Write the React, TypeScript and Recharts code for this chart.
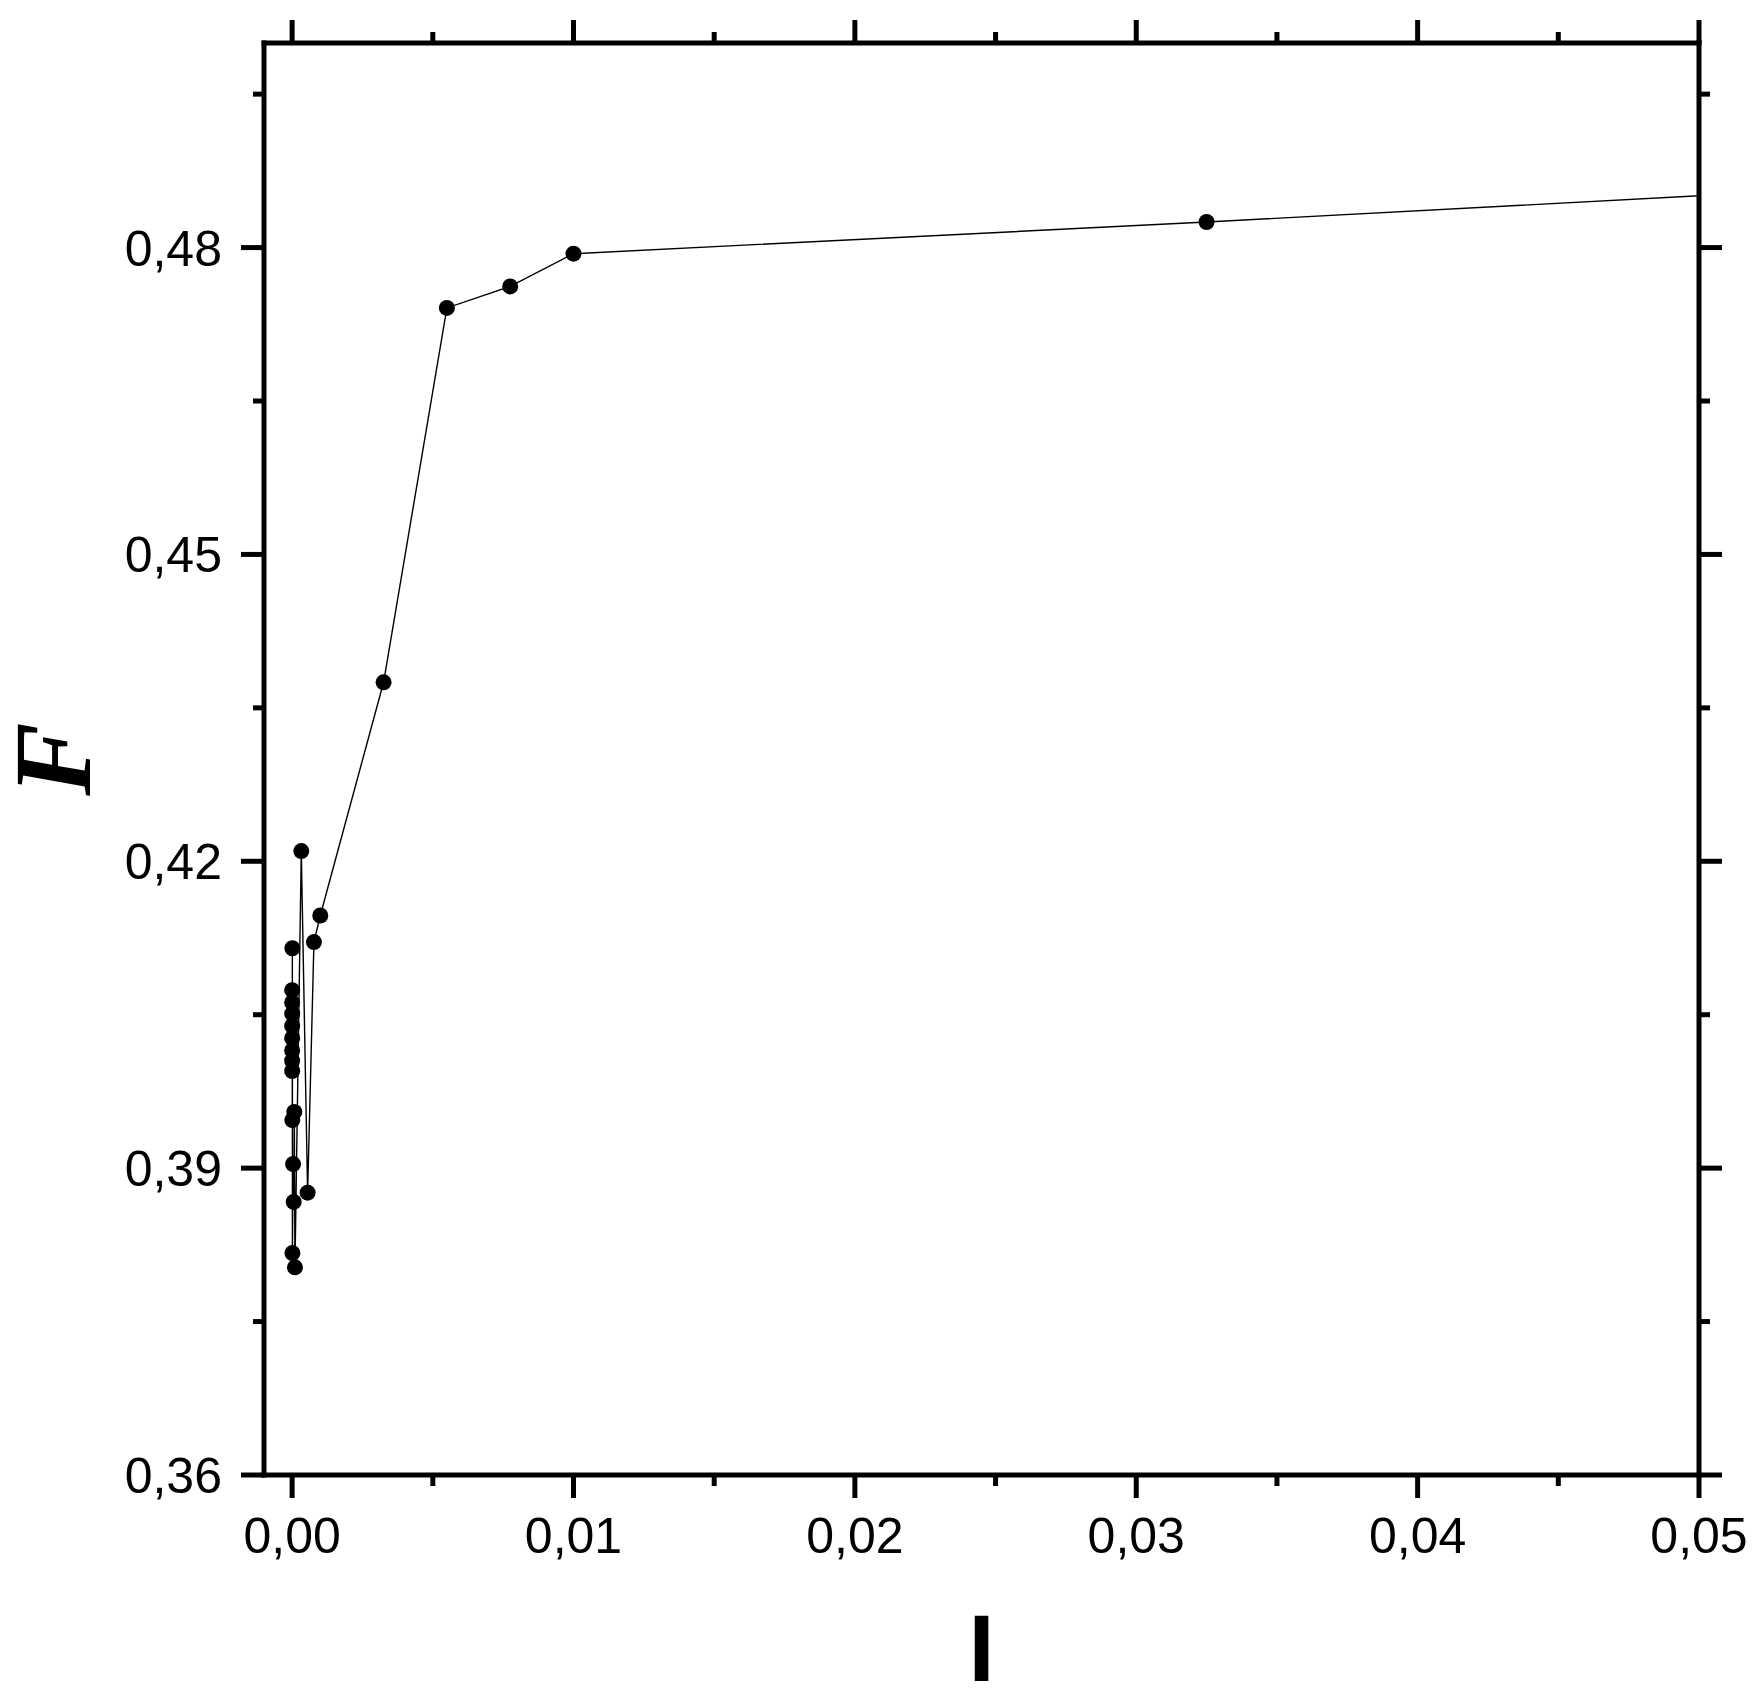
import React from 'react';
import { LineChart, Line, XAxis, YAxis } from 'recharts';

// Injection current I and the resulting F values
const xValues = [
  5.5e-8, 7.75e-8, 1e-7, 3.25e-7, 5.5e-7, 7.75e-7, 1e-6, 3.25e-6, 5.5e-6, 7.75e-6,
  1e-5, 3.25e-5, 5.5e-5, 7.75e-5, 0.0001, 0.000325, 0.00055, 0.000775, 0.001,
  0.00325, 0.0055, 0.00775, 0.01, 0.0325, 0.055,
];
const fValues = [
  0.4015, 0.4027, 0.4005, 0.4062, 0.4039, 0.4074, 0.3995, 0.4051, 0.3947, 0.4115,
  0.3817, 0.3904, 0.3867, 0.3955, 0.3803, 0.4210, 0.3876, 0.4121, 0.4147,
  0.4375, 0.4741, 0.4762, 0.4794, 0.4825, 0.4858,
];

const xTicks = [0, 0.005, 0.01, 0.015, 0.02, 0.025, 0.03, 0.035, 0.04, 0.045, 0.05];
const yTicks = [0.36, 0.375, 0.39, 0.405, 0.42, 0.435, 0.45, 0.465, 0.48, 0.495];
const xDomain = [-0.001, 0.05];
const yDomain = [0.36, 0.5];

const data = xValues.map((x, i) => ({ x, f: fValues[i] }));

const W = 1759;
const H = 1698;
const FONT = '"Liberation Sans", Arial, sans-serif';
const MAJOR = 23;
const MINOR = 11;
const TW = 5;

const isMajorX = (v: number) => Math.abs(v / 0.01 - Math.round(v / 0.01)) < 1e-6;
const isMajorY = (v: number) => Math.abs((v - 0.36) / 0.03 - Math.round((v - 0.36) / 0.03)) < 1e-6;
const fmt = (v: number) => v.toFixed(2).replace('.', ',');

const BottomTick = (props: any) => {
  const { x, y, payload } = props;
  const major = isMajorX(payload.value);
  return (
    <g>
      <line x1={x} y1={y} x2={x} y2={y + (major ? MAJOR : MINOR)} stroke="#000" strokeWidth={TW} />
      {major && (
        <text x={x} y={y + 78} textAnchor="middle" fontSize={50} fontFamily={FONT} fill="#000">
          {fmt(payload.value)}
        </text>
      )}
    </g>
  );
};

const TopTick = (props: any) => {
  const { x, y, payload } = props;
  const major = isMajorX(payload.value);
  return <line x1={x} y1={y} x2={x} y2={y - (major ? MAJOR : MINOR)} stroke="#000" strokeWidth={TW} />;
};

const LeftTick = (props: any) => {
  const { x, y, payload } = props;
  const major = isMajorY(payload.value);
  return (
    <g>
      <line x1={x} y1={y} x2={x - (major ? MAJOR : MINOR)} y2={y} stroke="#000" strokeWidth={TW} />
      {major && (
        <text x={x - 42} y={y + 18} textAnchor="end" fontSize={50} fontFamily={FONT} fill="#000">
          {fmt(payload.value)}
        </text>
      )}
    </g>
  );
};

const RightTick = (props: any) => {
  const { x, y, payload } = props;
  const major = isMajorY(payload.value);
  return <line x1={x} y1={y} x2={x + (major ? MAJOR : MINOR)} y2={y} stroke="#000" strokeWidth={TW} />;
};

const XLabel = (props: any) => {
  const vb = props.viewBox || {};
  const cx = vb.x + vb.width / 2;
  return (
    <text x={cx} y={vb.y + 206} textAnchor="middle" fontSize={94} fontWeight="bold" fontFamily={FONT} fill="#000">
      I
    </text>
  );
};

const YLabel = (props: any) => {
  const vb = props.viewBox || {};
  const cy = vb.y + vb.height / 2;
  const bx = vb.x + 90;
  return (
    <text
      x={bx}
      y={cy}
      textAnchor="middle"
      fontSize={110}
      fontWeight="bold"
      fontStyle="italic"
      fontFamily='"Liberation Serif", "Times New Roman", serif'
      fill="#000"
      transform={`rotate(-90, ${bx}, ${cy})`}
    >
      F
    </text>
  );
};

const axisLine = { stroke: '#000', strokeWidth: TW, strokeLinecap: 'square' as const };

export default function App() {
  return (
    <div style={{ position: 'absolute', left: 0, top: 0, width: W, height: H, background: '#fff' }}>
      <LineChart width={W} height={H} data={data} margin={{ top: 0, right: 0, bottom: 0, left: 0 }}>
        <XAxis
          xAxisId="b"
          dataKey="x"
          type="number"
          domain={xDomain}
          allowDataOverflow
          ticks={xTicks}
          interval={0}
          orientation="bottom"
          height={223}
          tickSize={0}
          tickMargin={0}
          tickLine={false}
          axisLine={axisLine}
          tick={<BottomTick />}
          label={<XLabel />}
        />
        <XAxis
          xAxisId="t"
          dataKey="x"
          type="number"
          domain={xDomain}
          allowDataOverflow
          ticks={xTicks}
          interval={0}
          orientation="top"
          height={43}
          tickSize={0}
          tickMargin={0}
          tickLine={false}
          axisLine={axisLine}
          tick={<TopTick />}
        />
        <YAxis
          yAxisId="l"
          type="number"
          domain={yDomain}
          allowDataOverflow
          ticks={yTicks}
          interval={0}
          orientation="left"
          width={264}
          tickSize={0}
          tickMargin={0}
          tickLine={false}
          axisLine={axisLine}
          tick={<LeftTick />}
          label={<YLabel />}
        />
        <YAxis
          yAxisId="r"
          type="number"
          domain={yDomain}
          allowDataOverflow
          ticks={yTicks}
          interval={0}
          orientation="right"
          width={60}
          tickSize={0}
          tickMargin={0}
          tickLine={false}
          axisLine={axisLine}
          tick={<RightTick />}
        />
        <Line
          xAxisId="b"
          yAxisId="l"
          type="linear"
          dataKey="f"
          stroke="#000"
          strokeWidth={1.4}
          dot={{ r: 8, fill: '#000', stroke: 'none' }}
          activeDot={false}
          isAnimationActive={false}
        />
      </LineChart>
    </div>
  );
}
